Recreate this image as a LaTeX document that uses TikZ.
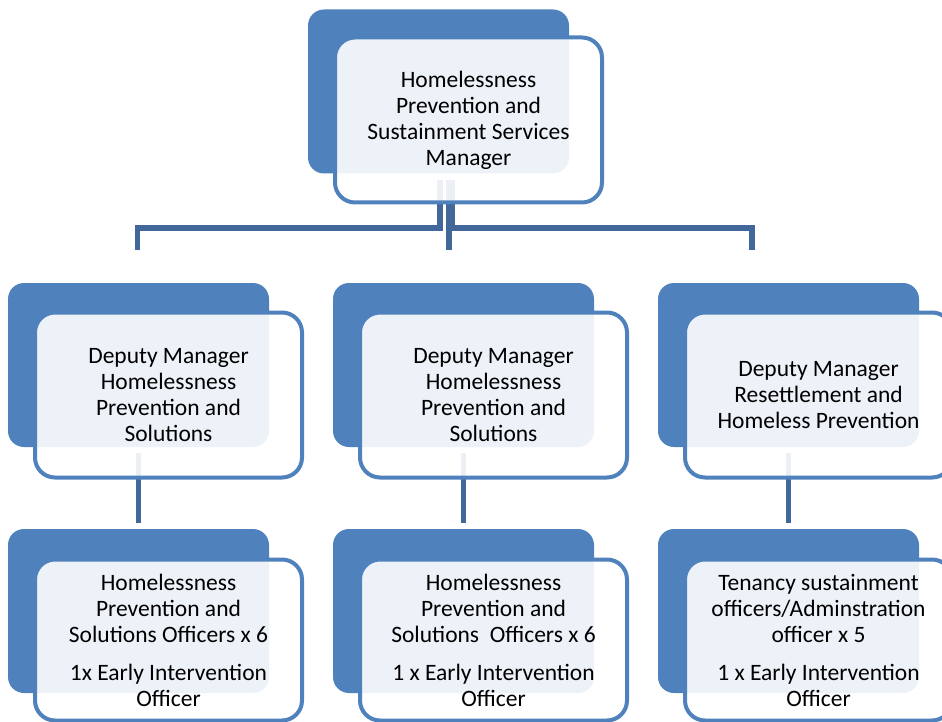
\documentclass[tikz,border=0pt]{standalone}
\usepackage{fontspec}
\setmainfont{Carlito}
\usepackage{tikz}
\usetikzlibrary{positioning}

\definecolor{orgblue}{HTML}{4F81BD}
\definecolor{linkblue}{HTML}{41679B}

\begin{document}
\begin{tikzpicture}[x=1pt,y=-1pt,font=\fontsize{23.5}{26}\selectfont]
\tikzstyle{backbox} = [rectangle, rounded corners=16pt, fill=orgblue, minimum width=261pt, minimum height=164pt, inner sep=0pt]
\tikzstyle{frontbox} = [rectangle, rounded corners=20pt, draw=orgblue, line width=4pt, fill=white, fill opacity=0.9, text opacity=1, minimum width=267pt, minimum height=165pt, align=center, inner sep=0pt]
\tikzstyle{link} = [draw=linkblue, line width=5.5pt]
\tikzstyle{downlink} = [link, shorten <=6pt, shorten >=6pt]

\useasboundingbox (0,0) rectangle (942,722);

% back boxes
\node (mgrback) at (438.5,91.5) [backbox] {};
\node (dm1back) at (138.5,365) [backbox] {};
\node (dm2back) at (463.5,365) [backbox] {};
\node (dm3back) at (788.5,365) [backbox] {};
\node (off1back) at (138.5,611) [backbox] {};
\node (off2back) at (463.5,611) [backbox] {};
\node (off3back) at (788.5,611) [backbox] {};

% fork under the manager
\coordinate (forkL) at (440,180);
\coordinate (forkM) at (449,180);
\coordinate (forkR) at (452,180);
\coordinate (bar) at (0,228);
\coordinate (drop1) at (137.5,250);
\coordinate (drop2) at (449,250);
\coordinate (drop3) at (752,250);

\draw[link] (forkL) -- (forkL |- bar) -| (drop1);
\draw[link] (forkM) -- (drop2);
\draw[link] (forkR) -- (forkR |- bar) -| (drop3);

\path
    (dm1back) edge [downlink] (off1back)
    (dm2back) edge [downlink] (off2back)
    (dm3back) edge [downlink] (off3back);

% front boxes
\node (mgr) at (468.5,120) [frontbox] {Homelessness\\Prevention and\\Sustainment Services\\Manager};
\node (dm1) at (168.5,395) [frontbox] {Deputy Manager\\Homelessness\\Prevention and\\Solutions};
\node (dm2) at (493.5,395) [frontbox] {Deputy Manager\\Homelessness\\Prevention and\\Solutions};
\node (dm3) at (818.5,395) [frontbox] {Deputy Manager\\Resettlement and\\Homeless Prevention};
\node (off1) at (168.5,640) [frontbox, minimum height=161pt] {Homelessness\\Prevention and\\Solutions Officers x 6\\[12pt]1x Early Intervention\\Officer};
\node (off2) at (493.5,640) [frontbox, minimum height=161pt] {Homelessness\\Prevention and\\Solutions~ Officers x 6\\[12pt]1 x Early Intervention\\Officer};
\node (off3) at (818.5,640) [frontbox, minimum height=161pt] {Tenancy sustainment\\officers/Adminstration\\officer x 5\\[12pt]1 x Early Intervention\\Officer};

\end{tikzpicture}
\end{document}
